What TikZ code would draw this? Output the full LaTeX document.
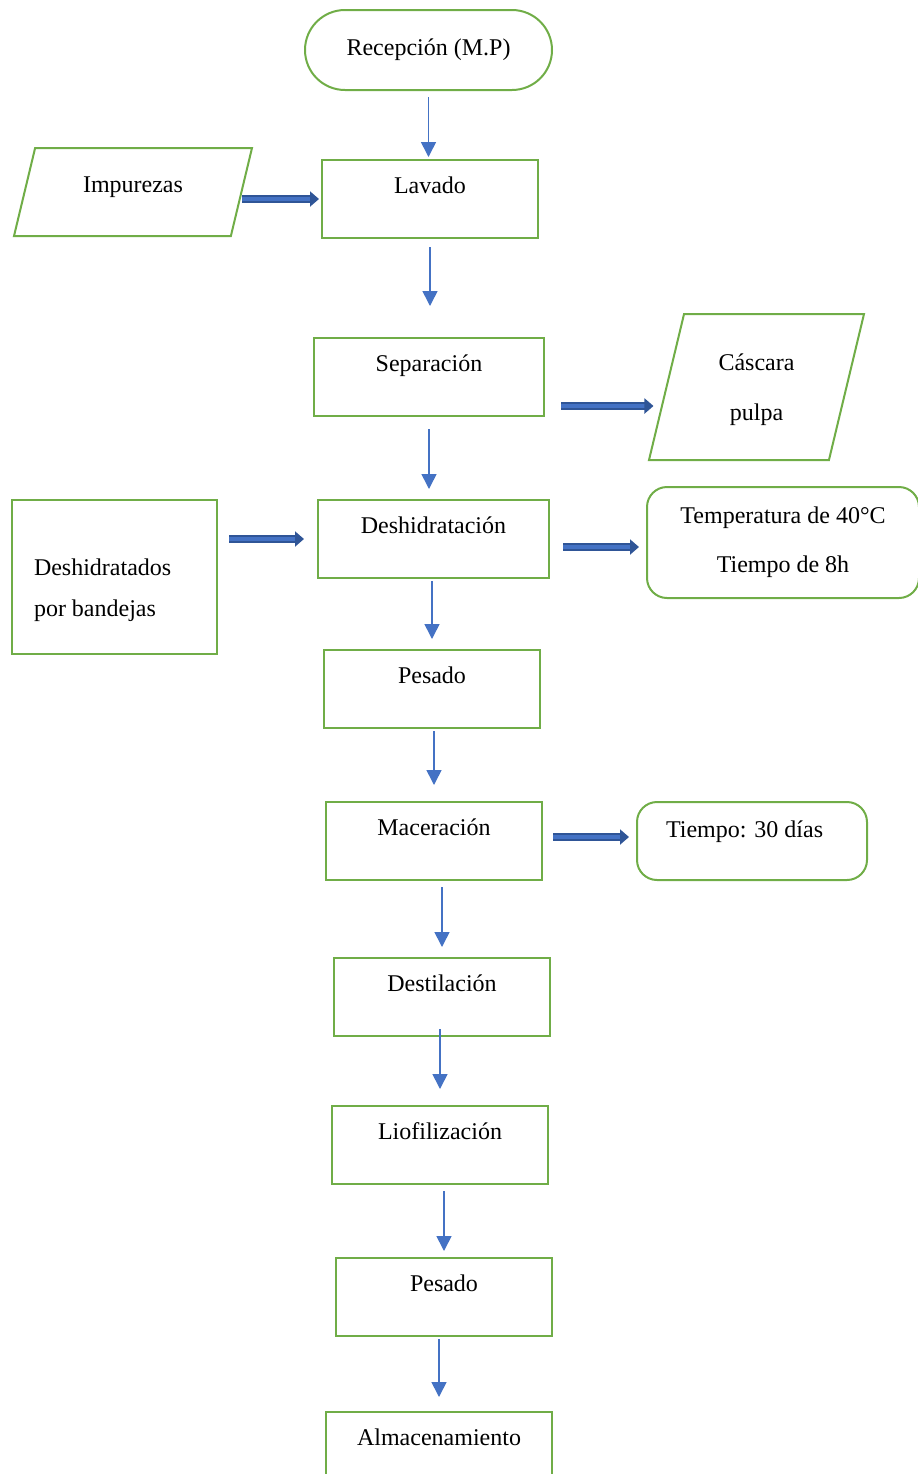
\documentclass[tikz,border=0pt]{standalone}
\usepackage{fontspec}
\setmainfont{Liberation Serif}
\usetikzlibrary{shapes.geometric,arrows.meta}
\definecolor{boxgreen}{HTML}{70AD47}
\definecolor{flowblue}{HTML}{4472C4}
\definecolor{feeddark}{HTML}{2F5597}

\begin{document}
\begin{tikzpicture}[x=0.5pt,y=-0.5pt,
	every node/.style={font=\fontsize{12pt}{14.5pt}\selectfont},
	termbox/.style={draw=boxgreen,line width=1pt,rounded corners=20pt,minimum width=123.5pt,minimum height=40pt},
	stepbox/.style={draw=boxgreen,line width=1pt,minimum width=108pt,inner ysep=0pt,text height=16.5pt,text depth=22.5pt},
	iobox/.style={trapezium,trapezium left angle=76.5,trapezium right angle=103.5,trapezium stretches body,draw=boxgreen,line width=1pt,inner sep=0pt},
	notebox/.style={draw=boxgreen,line width=1pt,rounded corners=10pt},
	flow/.style={draw=flowblue,line width=0.8pt,-{Triangle[width=7.5pt,length=7.5pt]}},
	feed/.style={draw=feeddark,double=flowblue,double distance=1.6pt,line width=1pt,-{Triangle[width=7.5pt,length=4.5pt]}}]
	\useasboundingbox (0,0) rectangle (917,1474);

	\node[termbox] (rec) at (428.5,50) {Recepción (M.P)};
	\node[stepbox] (lav) at (430,199) {Lavado};
	\node[stepbox,minimum width=115pt] (sep) at (429,377) {Separación};
	\node[stepbox,minimum width=115.5pt] (desh) at (433.5,539) {Deshidratación};
	\node[stepbox] (pes1) at (432,689) {Pesado};
	\node[stepbox] (mac) at (434,841) {Maceración};
	\node[stepbox] (des) at (442,997) {Destilación};
	\node[stepbox] (lio) at (440,1145) {Liofilización};
	\node[stepbox] (pes2) at (444,1297) {Pesado};
	\node[stepbox,minimum width=113pt] (alm) at (439,1451) {Almacenamiento};

	\node[iobox,minimum width=119pt,text height=22pt,text depth=22pt] (imp) at (133,192) {Impurezas};
	\node[iobox,minimum width=107.5pt,text height=53pt,text depth=20pt,align=center] (cas) at (756.5,387) {Cáscara\\[10.5pt]pulpa};
	\node[draw=boxgreen,line width=1pt,inner ysep=0pt,text height=37.5pt,text depth=39.5pt,text width=80.5pt,inner xsep=11pt,align=flush left] (band) at (114.5,577) {Deshidratados\\[6pt]por bandejas};
	\node[notebox,minimum width=136pt,minimum height=55.5pt,align=center] (temp) at (783,542.5) {Temperatura de 40°C\\[10pt]Tiempo de 8h};
	\node[notebox,inner ysep=0pt,text height=17.5pt,text depth=21.5pt,text width=86pt,inner xsep=14.5pt,align=flush left] (tie) at (752,841) {Tiempo: 30 días};

	\draw[flow,shorten <=3pt,shorten >=1pt] (rec.south) -- (rec.south |- lav.north);
	\draw[flow,shorten <=4pt,shorten >=15.5pt] (lav.south) -- (lav.south |- sep.north);
	\draw[flow,shorten <=6pt,shorten >=5pt] (sep.south) -- (sep.south |- desh.north);
	\draw[flow,shorten <=1pt,shorten >=5pt] (desh.south -| pes1) -- (pes1.north);
	\draw[flow,shorten <=1pt,shorten >=8pt] (pes1.south -| mac) -- (mac.north);
	\draw[flow,shorten <=3pt,shorten >=5pt] (mac.south -| des) -- (des.north);
	\draw[flow,shorten <=-4pt,shorten >=8pt] (des.south -| lio) -- (lio.north);
	\draw[flow,shorten <=3pt,shorten >=3pt] (lio.south -| pes2) -- (pes2.north);
	\draw[flow,shorten <=1pt,shorten >=7pt] (pes2.south -| alm) -- (alm.north);

	\draw[feed,shorten >=1pt] (imp.east |- lav) -- (lav.west);
	\draw[feed,shorten <=8pt,shorten >=6pt] ([yshift=-14.5pt]sep.east) -- ([yshift=-14.5pt]sep.east -| cas.west);
	\draw[feed,shorten <=5.5pt,shorten >=6.5pt] (band.east |- desh) -- (desh.west);
	\draw[feed,shorten <=6.5pt,shorten >=3.5pt] ([yshift=-4pt]desh.east) -- ([yshift=-4pt]desh.east -| temp.west);
	\draw[feed,shorten <=5pt,shorten >=3.5pt] ([yshift=2pt]mac.east) -- ([yshift=2pt]mac.east -| tie.west);
\end{tikzpicture}
\end{document}
